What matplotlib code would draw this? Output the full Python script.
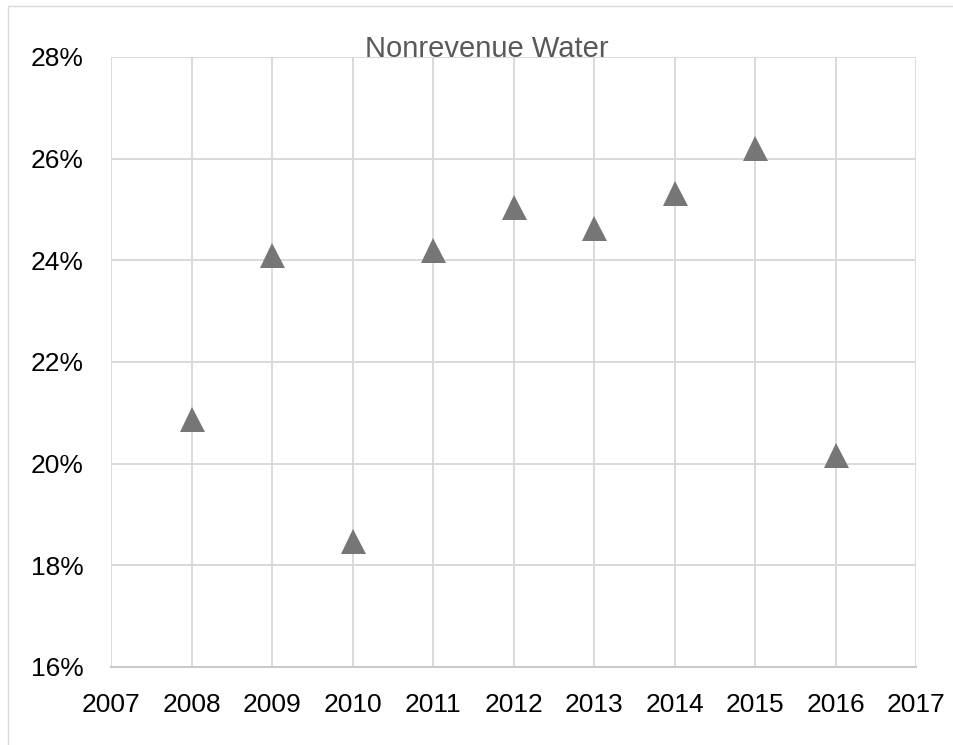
import matplotlib.pyplot as plt
from matplotlib.ticker import FuncFormatter
from matplotlib.patches import Rectangle

# data
years = [2008, 2009, 2010, 2011, 2012, 2013, 2014, 2015, 2016]
nonrevenue = [0.2087, 0.2410, 0.1847, 0.2420, 0.2505, 0.2464, 0.2532, 0.2621, 0.2017]
x_ticks = list(range(2007, 2018))
y_ticks = [0.16, 0.18, 0.20, 0.22, 0.24, 0.26, 0.28]

plt.rcParams['font.family'] = ['Liberation Sans', 'DejaVu Sans']

fig = plt.figure(figsize=(9.54, 7.45), dpi=100)
ax = fig.add_axes([0.1164, 0.1047, 0.9602 - 0.1164, 0.9235 - 0.1047])

# thin outer border like the exported chart area
fig.patches.append(Rectangle((8 / 954, -0.1), 1.2, 1.1 - 6 / 745, transform=fig.transFigure,
                             fill=False, edgecolor='#d9d9d9', linewidth=1.0))

ax.plot(years, nonrevenue, linestyle='none', marker='^', markersize=18,
        color='#767676', markeredgewidth=0, zorder=3)

ax.set_xlim(2007, 2017)
ax.set_ylim(0.16, 0.28)
ax.set_xticks(x_ticks)
ax.set_yticks(y_ticks)
ax.yaxis.set_major_formatter(FuncFormatter(lambda v, p: '%d%%' % round(v * 100)))

ax.grid(True, color='#d9d9d9', linewidth=1.4)
ax.set_axisbelow(True)
for side in ['left', 'right', 'top']:
    ax.spines[side].set_visible(False)
ax.spines['bottom'].set_color('#c8c8c8')
ax.spines['bottom'].set_linewidth(1.4)

ax.tick_params(axis='both', length=0, labelsize=19, colors='black')
ax.tick_params(axis='y', pad=20)
ax.tick_params(axis='x', pad=19)

ax.text(0.4665, 1.0, 'Nonrevenue Water', transform=ax.transAxes, ha='center', va='baseline',
        fontsize=21, color='#595959')

fig.savefig('out.png', dpi=100)
